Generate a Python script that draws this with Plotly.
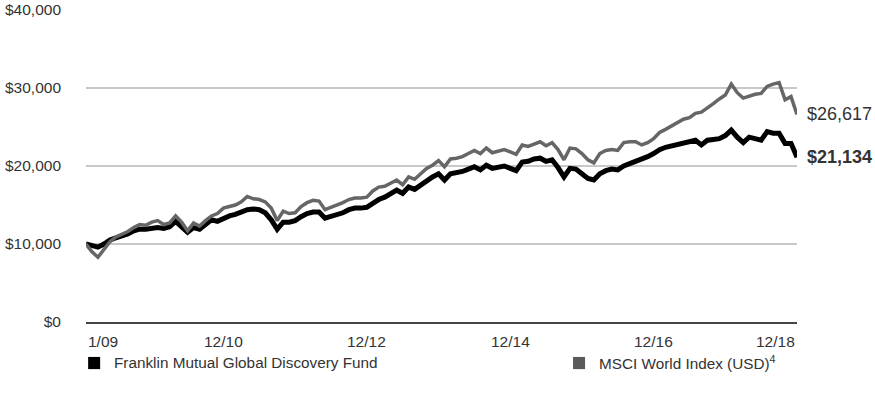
import plotly.graph_objects as go

# ---- data (values in $ thousands, monthly 1/09 .. 12/18) ----
fund_k = [10.0, 9.75, 9.6, 10.0, 10.5, 10.8, 11.0, 11.3, 11.7, 11.9,
          11.9, 12.0, 12.1, 12.0, 12.2, 12.9, 12.3, 11.5, 12.1, 11.9,
          12.5, 13.1, 12.9, 13.3, 13.6, 13.8, 14.1, 14.4, 14.5, 14.4,
          14.0, 13.1, 11.9, 12.8, 12.8, 13.0, 13.5, 13.9, 14.1, 14.1,
          13.3, 13.5, 13.7, 14.0, 14.4, 14.6, 14.6, 14.7, 15.2, 15.7,
          16.0, 16.4, 16.9, 16.5, 17.3, 17.0, 17.6, 18.2, 18.6, 19.0,
          18.2, 19.0, 19.1, 19.3, 19.6, 19.9, 19.5, 20.1, 19.7, 19.8,
          20.0, 19.7, 19.4, 20.5, 20.6, 20.9, 21.0, 20.6, 20.8, 19.8,
          18.6, 19.7, 19.6, 19.0, 18.4, 18.2, 19.0, 19.4, 19.6, 19.5,
          20.0, 20.3, 20.55, 20.8, 21.2, 21.6, 22.1, 22.4, 22.6, 22.8,
          23.0, 23.1, 23.3, 22.7, 23.3, 23.4, 23.5, 23.9, 24.6, 23.7,
          23.0, 23.7, 23.5, 23.3, 24.4, 24.2, 24.2, 22.9, 22.9, 21.134]
msci_k = [10.0, 9.0, 8.3, 9.3, 10.3, 10.9, 11.2, 11.6, 12.1, 12.5,
          12.4, 12.8, 13.0, 12.5, 12.7, 13.6, 12.8, 11.7, 12.7, 12.3,
          13.0, 13.6, 13.9, 14.6, 14.8, 15.0, 15.4, 16.1, 15.8, 15.7,
          15.4, 14.6, 13.0, 14.2, 13.9, 14.0, 14.8, 15.3, 15.6, 15.5,
          14.4, 14.7, 14.9, 15.3, 15.7, 15.9, 15.9, 16.0, 16.8, 17.3,
          17.4, 17.8, 18.2, 17.6, 18.6, 18.3, 19.0, 19.7, 20.1, 20.7,
          19.9, 20.9, 21.0, 21.2, 21.6, 22.0, 21.6, 22.3, 21.7, 21.9,
          22.1, 21.8, 21.5, 22.7, 22.5, 22.8, 23.1, 22.6, 23.0, 22.1,
          20.8, 22.3, 22.2, 21.6, 20.8, 20.4, 21.6, 22.0, 22.1, 22.0,
          23.0, 23.1, 23.1, 22.7, 23.0, 23.5, 24.3, 24.7, 25.1, 25.6,
          26.0, 26.2, 26.75, 26.9, 27.4, 28.0, 28.6, 29.1, 30.5, 29.4,
          28.7, 29.0, 29.2, 29.3, 30.2, 30.5, 30.7, 28.5, 28.9, 26.617]
fund = [v * 1000 for v in fund_k]
msci = [v * 1000 for v in msci_k]
months = list(range(len(fund)))

series_names = ["Franklin Mutual Global Discovery Fund",
                "MSCI World Index (USD)<sup>4</sup>"]
end_labels = ["<b>$21,134</b>", "$26,617"]

x_tick_idx = [0, 23, 47, 71, 95, 119]
x_tick_text = ["1/09", "12/10", "12/12", "12/14", "12/16", "12/18"]
y_tick_vals = [0, 10000, 20000, 30000, 40000]
y_tick_text = ["$0", "$10,000", "$20,000", "$30,000", "$40,000"]

BLACK = "#000000"
GRAY = "#666666"
TXT = "#333333"
FONT = "Liberation Sans, Arial, sans-serif"

fig = go.Figure()
fig.add_trace(go.Scatter(x=months, y=fund, mode="lines", name=series_names[0],
                         line=dict(color=BLACK, width=5), showlegend=False,
                         hoverinfo="skip"))
fig.add_trace(go.Scatter(x=months, y=msci, mode="lines", name=series_names[1],
                         line=dict(color=GRAY, width=3.5), showlegend=False,
                         hoverinfo="skip"))

# x tick labels
n = len(x_tick_idx)
for i, (xi, t) in enumerate(zip(x_tick_idx, x_tick_text)):
    anchor = "left" if i == 0 else ("right" if i == n - 1 else "center")
    fig.add_annotation(x=xi, y=0, xref="x", yref="paper", text=t, showarrow=False,
                       xanchor=anchor, yanchor="top", yshift=-9,
                       font=dict(family=FONT, size=15.5, color=TXT))

# end labels
for vals, lab in zip([fund, msci], end_labels):
    fig.add_annotation(x=months[-1], y=vals[-1], xref="x", yref="y", text=lab,
                       showarrow=False, xanchor="left", yanchor="middle", xshift=8,
                       font=dict(family=FONT, size=18, color=TXT))

# legend (manual squares + text)
legend_items = [(0.003, BLACK, series_names[0]), (0.685, "#5a5a5a", series_names[1])]
for x0, col, name in legend_items:
    fig.add_shape(type="rect", xref="paper", yref="paper",
                  x0=x0, x1=x0 + 0.0169, y0=-0.112, y1=-0.151,
                  fillcolor=col, line=dict(width=0))
    fig.add_annotation(x=x0 + 0.0336, y=-0.131, xref="paper", yref="paper",
                       text=name, showarrow=False, xanchor="left", yanchor="middle",
                       font=dict(family=FONT, size=15.3, color=TXT))

fig.update_layout(
    width=875, height=406,
    margin=dict(l=86, r=78, t=10, b=84, autoexpand=False),
    paper_bgcolor="white", plot_bgcolor="white",
    showlegend=False, hovermode=False,
    xaxis=dict(range=[0, months[-1]], showgrid=False, zeroline=False,
               showticklabels=False, ticks="", showline=True,
               linecolor="#444444", linewidth=2, automargin=False),
    yaxis=dict(range=[0, 40000], tickvals=y_tick_vals, ticktext=y_tick_text,
               showgrid=True, gridcolor="#c8c8c8", gridwidth=1.5,
               zeroline=False, showline=False, ticks="",
               ticklabelstandoff=24, automargin=False,
               tickfont=dict(family=FONT, size=15.5, color=TXT)),
)

fig.write_html("out.html", config={"displayModeBar": False},
               post_script="document.body.style.margin='0';document.body.style.overflow='hidden';")
